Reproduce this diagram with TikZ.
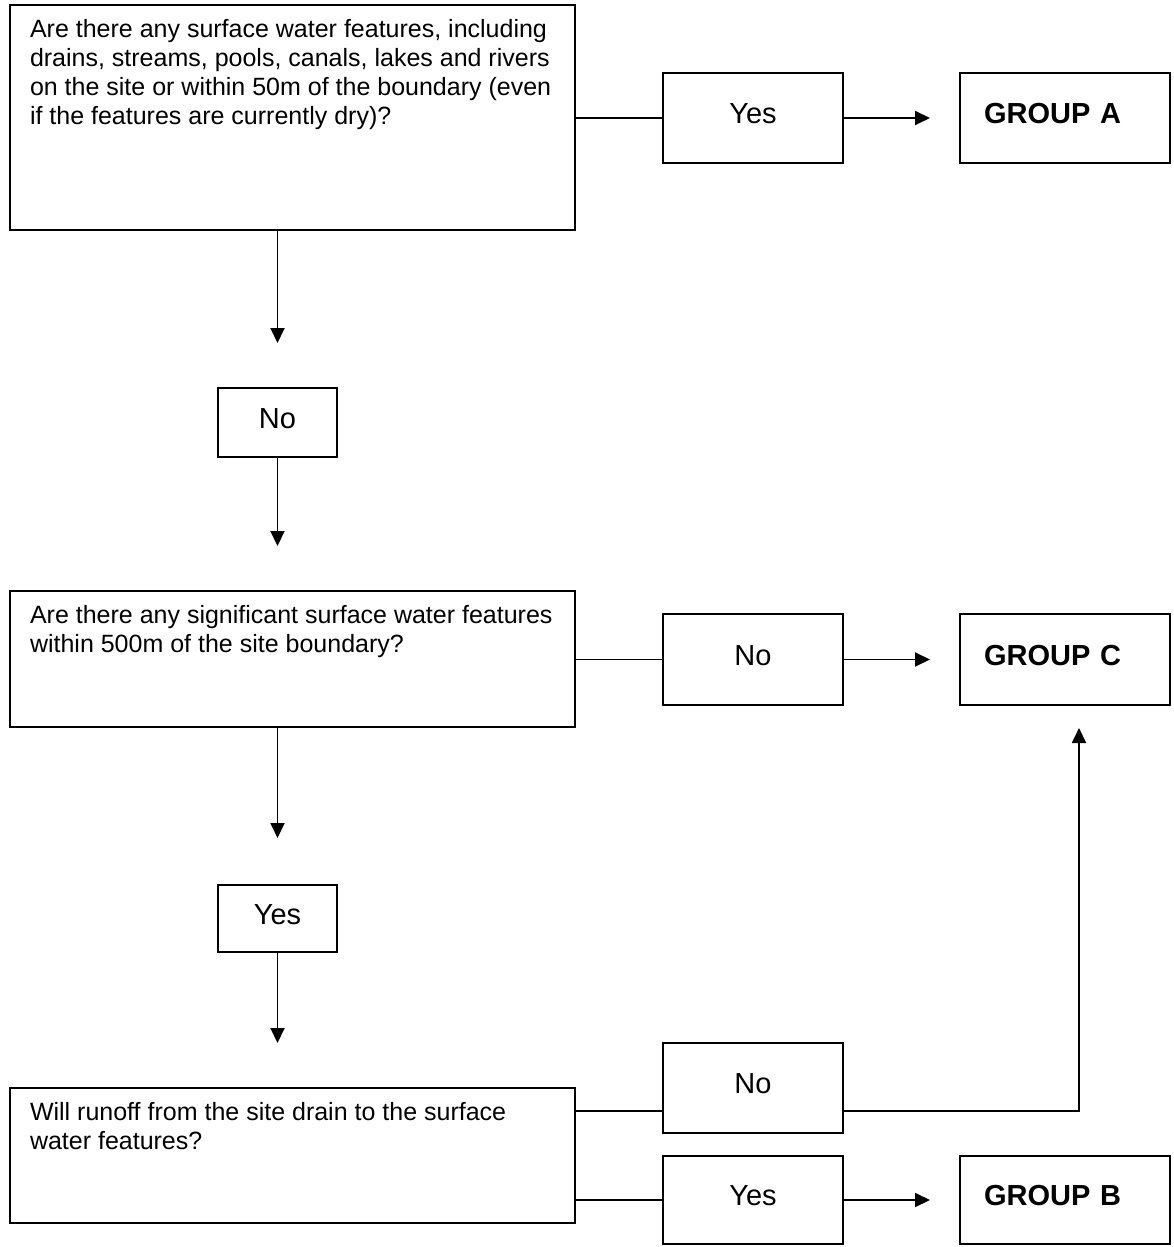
\documentclass[tikz,border=0pt]{standalone}
\usepackage{fontspec}
\setmainfont{Liberation Sans}
\usetikzlibrary{arrows.meta}
\tikzset{
  ln/.style={line width=1.9pt},
  box/.style={draw, ln, inner sep=0pt, outer sep=0pt, shape=rectangle},
  qtxt/.style={inner sep=0pt, outer sep=0pt, anchor=north west, align=left, font=\fontsize{25}{29}\selectfont},
  lbl/.style={box, font=\fontsize{29}{33}\selectfont, text height=20pt, text depth=9pt},
  grp/.style={box, font=\fontsize{29}{33}\selectfont\bfseries, text height=20pt, text depth=9pt, text width=162pt, inner xsep=24pt, align=left},
  arr/.style={ln, -{Triangle[length=15pt,width=14pt]}},
}
\begin{document}
\begin{tikzpicture}[x=1pt,y=-1pt]
\useasboundingbox[fill=white] (0,0) rectangle (1173,1247);

% question boxes
\node[box, minimum width=565pt, minimum height=225pt] (q1) at (292.5,117.5) {};
\node[qtxt] (q1t) at ([xshift=20pt,yshift=-14.7pt]q1.north west)
  {Are there any surface water features, including\\drains, streams, pools, canals, lakes and rivers\\on the site or within 50m of the boundary (even\\if the features are currently dry)?};
\node[box, minimum width=565pt, minimum height=136pt] (q2) at (292.5,659) {};
\node[qtxt] (q2t) at ([xshift=20pt,yshift=-14.7pt]q2.north west)
  {Are there any significant surface water features\\within 500m of the site boundary?};
\node[box, minimum width=565pt, minimum height=135pt] (q3) at (292.5,1155.5) {};
\node[qtxt] (q3t) at ([xshift=20pt,yshift=-14.7pt]q3.north west)
  {Will runoff from the site drain to the surface\\water features?};

% answer boxes
\node[lbl, minimum width=180pt, minimum height=90pt] (yes1) at (753,118) {Yes};
\node[lbl, minimum width=119pt, minimum height=69pt] (no1) at (277.5,422.5) {No};
\node[lbl, minimum width=180pt, minimum height=91pt] (no2) at (753,659.5) {No};
\node[lbl, minimum width=119pt, minimum height=67pt] (yes2) at (277.5,918.5) {Yes};
\node[lbl, minimum width=180pt, minimum height=90pt] (no3) at (753,1088) {No};
\node[lbl, minimum width=180pt, minimum height=88pt] (yes3) at (753,1200) {Yes};

% group boxes
\node[grp, minimum width=210pt, minimum height=90pt] (gA) at (1065,118) {GROUP A};
\node[grp, minimum width=210pt, minimum height=91pt] (gC) at (1065,659.5) {GROUP C};
\node[grp, minimum width=210pt, minimum height=88pt] (gB) at (1065,1200) {GROUP B};

\coordinate (nolvl) at (0,1111);
\coordinate (upx) at (1079,0);

% connectors
\draw[ln] (q1.east |- yes1) -- (yes1.west);
\draw[arr, shorten >=30pt] (yes1.east) -- (gA.west);
\draw[arr, shorten >=45pt] (q1.south -| no1) -- (no1.north);
\draw[arr, shorten >=45pt] (no1.south) -- (q2.north -| no1);

\draw[ln] (q2.east |- no2) -- (no2.west);
\draw[arr, shorten >=30pt] (no2.east) -- (gC.west);
\draw[arr, shorten >=47pt] (q2.south -| yes2) -- (yes2.north);
\draw[arr, shorten >=45pt] (yes2.south) -- (q3.north -| yes2);

\draw[ln] (q3.east |- nolvl) -- (no3.west |- nolvl);
\draw[arr, shorten >=23pt] (no3.east |- nolvl) -| (upx |- gC.south);
\draw[ln] (q3.east |- yes3) -- (yes3.west);
\draw[arr, shorten >=30pt] (yes3.east) -- (gB.west);
\end{tikzpicture}
\end{document}
